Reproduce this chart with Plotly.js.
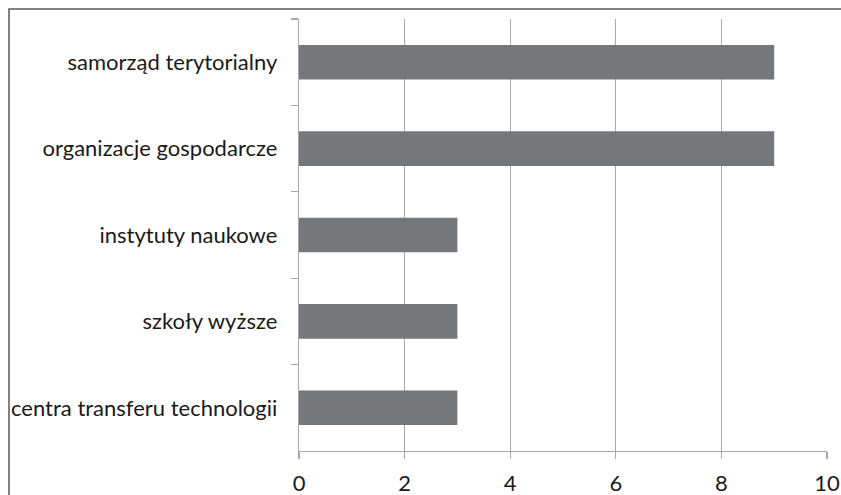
<!DOCTYPE html>
<html>
<head>
<meta charset="utf-8">
<script src="https://cdn.plot.ly/plotly-3.0.1.min.js"></script>
<style>html,body{margin:0;padding:0;background:#fff;}</style>
</head>
<body>
<div id="chart" style="width:841px;height:495px;"></div>
<script>
const categories = ["samorząd terytorialny", "organizacje gospodarcze", "instytuty naukowe", "szkoły wyższe", "centra transferu technologii"];
const values = [9, 9, 3, 3, 3];
const xTicks = [0, 2, 4, 6, 8, 10];

const W = 841, H = 495;
const m = {l: 299, r: 14, t: 19, b: 44};
const pw = W - m.l - m.r, ph = H - m.t - m.b;
const px = x => (x - m.l) / pw;
const py = y => (H - m.b - y) / ph;

const trace = {
  type: 'bar',
  orientation: 'h',
  y: categories,
  x: values,
  marker: {color: '#76777b', line: {width: 0}},
  hoverinfo: 'skip'
};

const layout = {
  width: W, height: H,
  margin: m,
  paper_bgcolor: '#ffffff',
  plot_bgcolor: '#ffffff',
  bargap: 0.6,
  showlegend: false,
  font: {family: 'Lato, sans-serif', size: 22, color: '#1a1a1a'},
  xaxis: {
    range: [0, 10],
    tickvals: xTicks,
    ticktext: xTicks.map(String),
    showgrid: true, gridcolor: '#a8a8a8', gridwidth: 1.3,
    zeroline: false,
    showline: true, linecolor: '#a8a8a8', linewidth: 1.3,
    ticks: 'outside', ticklen: 7, tickcolor: '#a8a8a8', tickwidth: 1.3,
    ticklabelstandoff: 5,
    tickfont: {size: 22},
    fixedrange: true
  },
  yaxis: {
    type: 'category',
    autorange: 'reversed',
    showgrid: false, zeroline: false,
    showline: true, linecolor: '#a8a8a8', linewidth: 1.3,
    ticks: 'outside', ticklen: 7, tickcolor: '#a8a8a8', tickwidth: 1.3,
    tickson: 'boundaries',
    ticklabelstandoff: 16,
    tickfont: {size: 22},
    fixedrange: true
  },
  shapes: [{
    type: 'rect', xref: 'paper', yref: 'paper',
    x0: px(9), x1: px(860), y0: py(520), y1: py(9),
    line: {color: '#5a5a5a', width: 1.5}, fillcolor: 'rgba(0,0,0,0)', layer: 'below'
  }]
};

Plotly.newPlot('chart', [trace], layout, {staticPlot: true, displayModeBar: false});
</script>
</body>
</html>
